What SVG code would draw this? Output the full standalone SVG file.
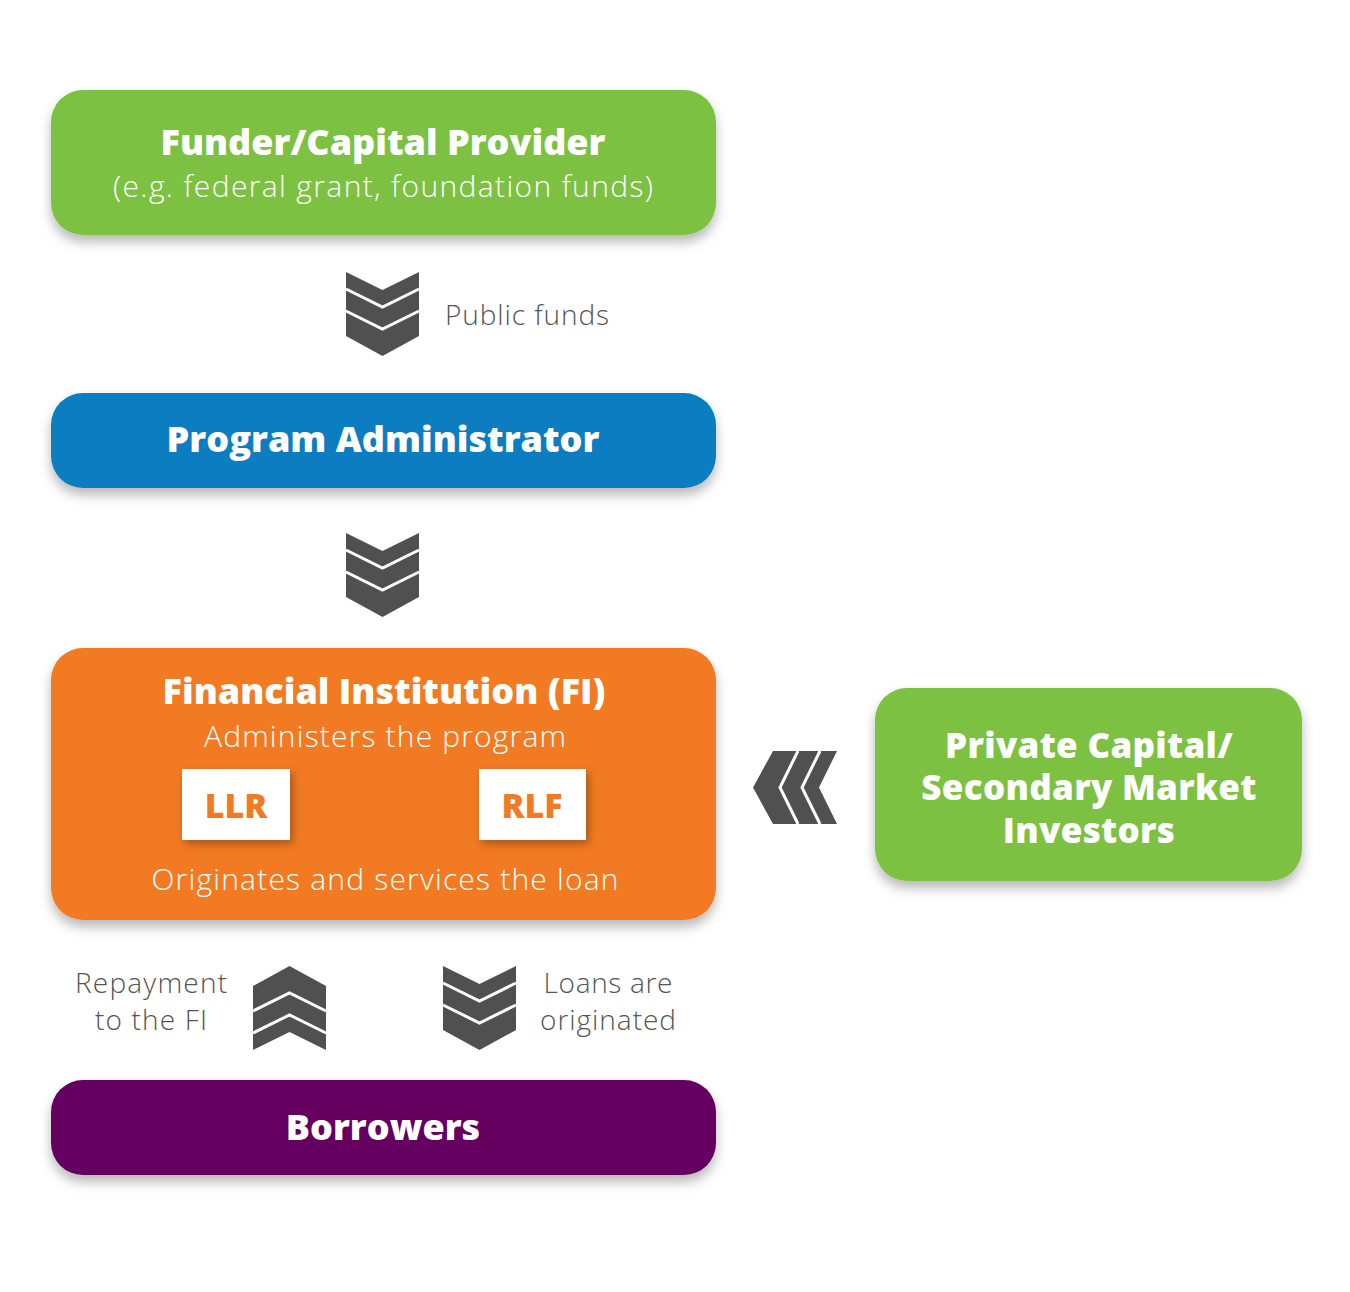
<svg xmlns="http://www.w3.org/2000/svg" xmlns:xlink="http://www.w3.org/1999/xlink" width="1350" height="1292" viewBox="0 0 1350 1292">
<style>
.title{font-family:"Open Sans","Liberation Sans",sans-serif;font-weight:800;fill:#fff;text-anchor:middle}
.sub{font-family:"Open Sans","Liberation Sans",sans-serif;font-weight:300;fill:#fff;text-anchor:middle}
.lbl{font-family:"Open Sans","Liberation Sans",sans-serif;font-weight:300;fill:#555;font-size:28px}
.tag{font-family:"Open Sans","Liberation Sans",sans-serif;font-weight:800;fill:#F17A24;font-size:34px;text-anchor:middle}
.sep{fill:none;stroke:#fff;stroke-width:3}
</style>
<defs>
<filter id="sh" x="-10%" y="-20%" width="120%" height="150%">
<feDropShadow dx="0" dy="7" stdDeviation="6" flood-color="#000" flood-opacity="0.28"/>
</filter>
<filter id="sh2" x="-30%" y="-30%" width="160%" height="160%">
<feDropShadow dx="3" dy="4" stdDeviation="4" flood-color="#000" flood-opacity="0.3"/>
</filter>
<g id="chev">
<polygon points="0,0 36.5,18 73,0 73,64 36.5,84 0,64" fill="#505050"/>
<polyline class="sep" points="0,17 36.5,35 73,17"/>
<polyline class="sep" points="0,39 36.5,57 73,39"/>
</g>
</defs>
<rect width="1350" height="1292" fill="#fff"/>

<g id="funder">
<rect x="51" y="90" width="665" height="145" rx="32" fill="#7DC142" filter="url(#sh)"/>
<text class="title" x="383" y="155" font-size="36">Funder/Capital Provider</text>
<text class="sub" x="383" y="197" font-size="30" textLength="540" lengthAdjust="spacing">(e.g. federal grant, foundation funds)</text>
</g>

<g id="admin">
<rect x="51" y="393" width="665" height="95" rx="32" fill="#0E7DC2" filter="url(#sh)"/>
<text class="title" x="383" y="452" font-size="36">Program Administrator</text>
</g>

<g id="fi">
<rect x="51" y="648" width="665" height="272" rx="32" fill="#F17A24" filter="url(#sh)"/>
<text class="title" x="384" y="704" font-size="36">Financial Institution (FI)</text>
<text class="sub" x="385" y="747" font-size="30" textLength="362" lengthAdjust="spacing">Administers the program</text>
<text class="sub" x="385" y="890" font-size="30" textLength="467" lengthAdjust="spacing">Originates and services the loan</text>
</g>

<g id="llr">
<rect x="182" y="769" width="108" height="71" fill="#fff" filter="url(#sh2)"/>
<text class="tag" x="236" y="818">LLR</text>
</g>

<g id="rlf">
<rect x="479" y="769" width="107" height="71" fill="#fff" filter="url(#sh2)"/>
<text class="tag" x="532" y="818">RLF</text>
</g>

<g id="private">
<rect x="875" y="688" width="427" height="193" rx="32" fill="#7DC142" filter="url(#sh)"/>
<text class="title" x="1089" y="758" font-size="35" letter-spacing="0.3">Private Capital/</text>
<text class="title" x="1089" y="800" font-size="35" letter-spacing="0.3">Secondary Market</text>
<text class="title" x="1089" y="843" font-size="35" letter-spacing="0.3">Investors</text>
</g>

<g id="borrowers">
<rect x="51" y="1080" width="665" height="95" rx="32" fill="#650060" filter="url(#sh)"/>
<text class="title" x="383" y="1140" font-size="36">Borrowers</text>
</g>

<g id="connectors">
<use xlink:href="#chev" transform="translate(346,272)"/>
<text class="lbl" x="445" y="325" textLength="164" lengthAdjust="spacing">Public funds</text>
<use xlink:href="#chev" transform="translate(346,533)"/>
<use xlink:href="#chev" transform="translate(837,751) rotate(90)"/>
<use xlink:href="#chev" transform="translate(326,1050) rotate(180)"/>
<text class="lbl" x="151" y="993" text-anchor="middle" textLength="152" lengthAdjust="spacing">Repayment</text>
<text class="lbl" x="151" y="1030" text-anchor="middle" textLength="112" lengthAdjust="spacing">to the FI</text>
<use xlink:href="#chev" transform="translate(443,966)"/>
<text class="lbl" x="608" y="993" text-anchor="middle" textLength="129" lengthAdjust="spacing">Loans are</text>
<text class="lbl" x="608" y="1030" text-anchor="middle" textLength="136" lengthAdjust="spacing">originated</text>
</g>
</svg>
